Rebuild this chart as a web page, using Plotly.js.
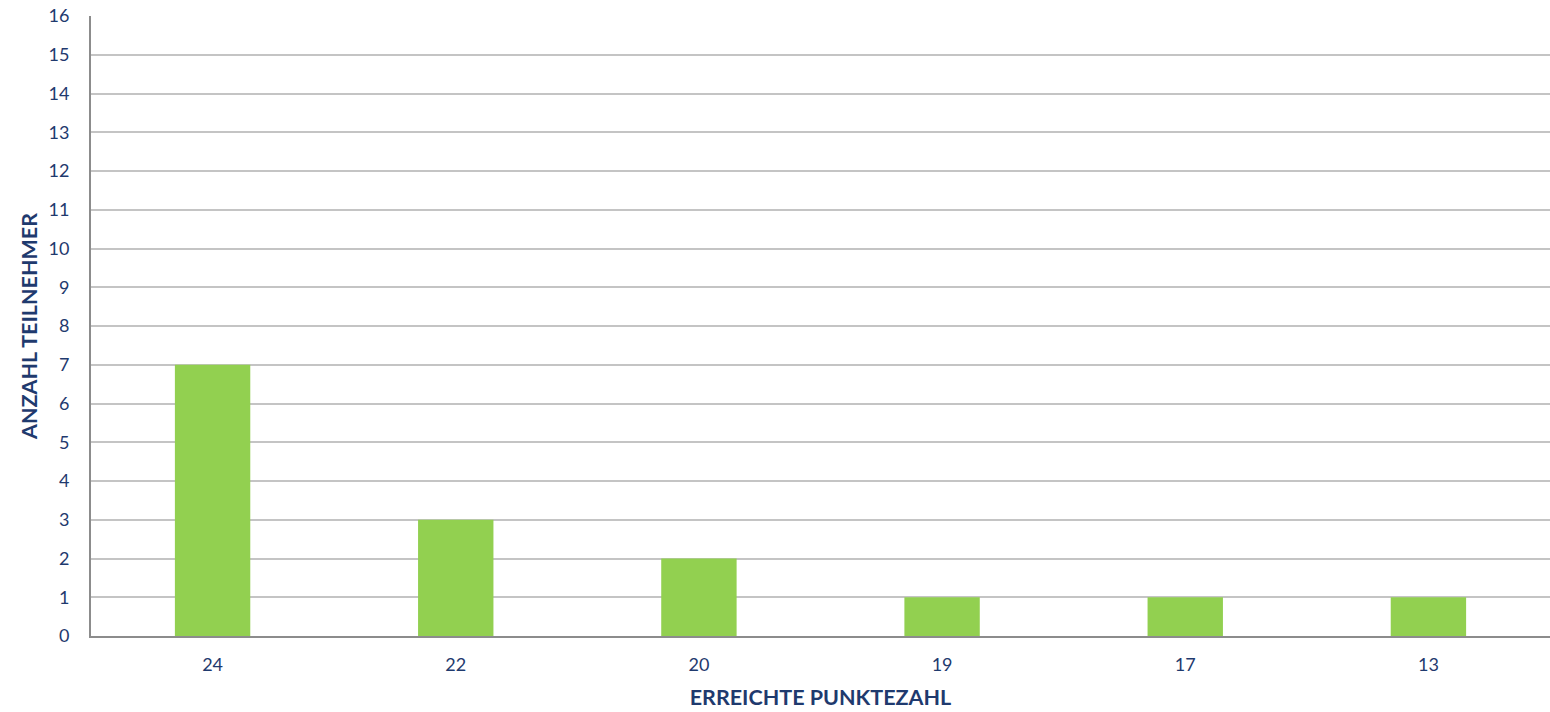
<!DOCTYPE html>
<html>
<head>
<meta charset="utf-8">
<script src="https://cdn.plot.ly/plotly-3.0.1.min.js"></script>
<style>html,body{margin:0;padding:0;background:#fff;}#chart{width:1550px;height:712px;}</style>
</head>
<body>
<div id="chart"></div>
<script>
var categories = ["24", "22", "20", "19", "17", "13"];
var values = [7, 3, 2, 1, 1, 1];
var yTicks = [0,1,2,3,4,5,6,7,8,9,10,11,12,13,14,15,16];
var xTitle = "ERREICHTE PUNKTEZAHL";
var yTitle = "ANZAHL TEILNEHMER";

var textColor = "#1F3A6E";
var fontFam = "Lato, 'Open Sans', sans-serif";

Plotly.newPlot("chart", [{
  type: "bar",
  x: categories,
  y: values,
  marker: {color: "#92D050"},
  hoverinfo: "x+y"
}], {
  width: 1550, height: 712,
  margin: {l: 91, r: 0, t: 16, b: 76},
  paper_bgcolor: "#fff", plot_bgcolor: "#fff",
  bargap: 0.69,
  showlegend: false,
  font: {family: fontFam, color: textColor, size: 18},
  xaxis: {
    type: "category",
    showline: true, linecolor: "#8C8C8C", linewidth: 2,
    showgrid: false, ticks: "",
    tickfont: {size: 18, color: textColor},
    ticklabelstandoff: 11,
    title: {text: xTitle, font: {size: 21.5, color: textColor, weight: "bold"}, standoff: 16}
  },
  yaxis: {
    range: [0, 16],
    tickvals: yTicks,
    showline: true, linecolor: "#8C8C8C", linewidth: 2,
    showgrid: true, gridcolor: "#C4C4C4", gridwidth: 2,
    zeroline: false, ticks: "",
    tickfont: {size: 18, color: textColor},
    ticklabelstandoff: 16,
    title: {text: yTitle, font: {size: 21.5, color: textColor, weight: "bold"}, standoff: 5}
  }
}, {displayModeBar: false});
</script>
</body>
</html>
